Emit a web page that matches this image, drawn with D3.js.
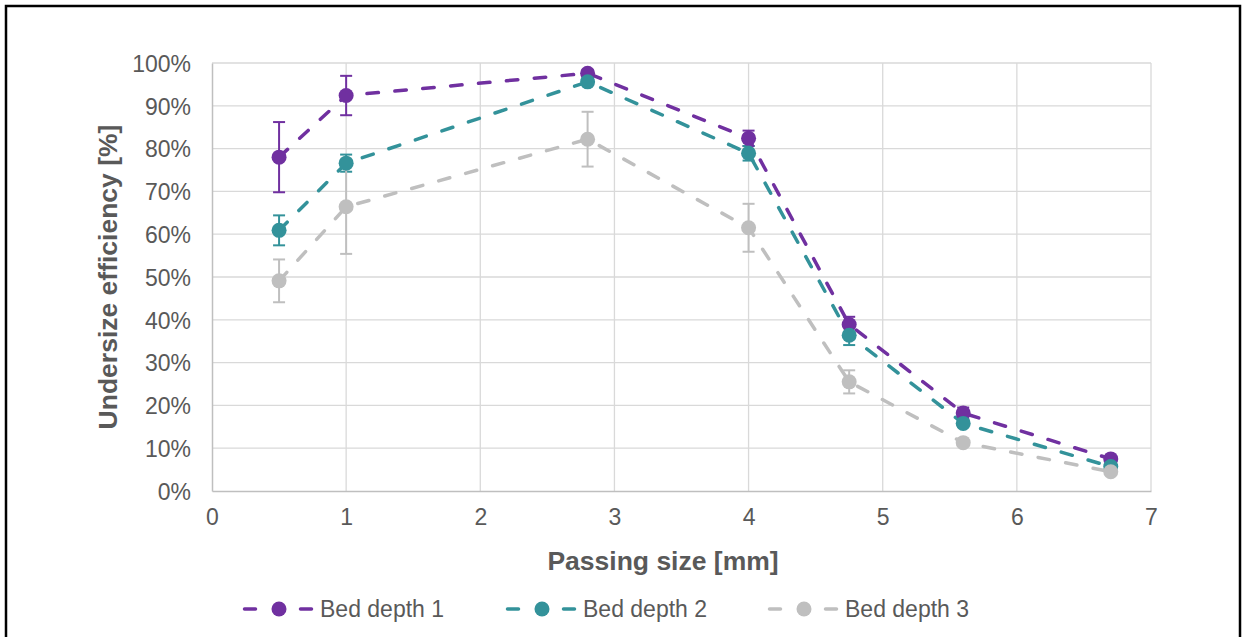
<!DOCTYPE html>
<html>
<head>
<meta charset="utf-8">
<script src="https://cdn.jsdelivr.net/npm/d3@7"></script>
<style>
  html, body { margin: 0; padding: 0; background: #fff; }
  svg { display: block; font-family: Arial, "Liberation Sans", sans-serif; }
</style>
</head>
<body>
<svg id="chart" width="1242" height="637"></svg>
<script>
// Passing sizes (mm) tested
const passingSize = [0.5, 1, 2.8, 4, 4.75, 5.6, 6.7];

// Undersize efficiency per bed depth (fraction) and standard deviation
const bedDepth1 = [0.780, 0.924, 0.976, 0.824, 0.389, 0.182, 0.075];
const bedDepth1Err = [0.082, 0.046, 0.008, 0.018, 0.018, 0.013, 0.006];

const bedDepth2 = [0.609, 0.766, 0.956, 0.789, 0.364, 0.158, 0.057];
const bedDepth2Err = [0.035, 0.020, 0.008, 0.017, 0.023, 0.008, 0.006];

const bedDepth3 = [0.491, 0.664, 0.822, 0.615, 0.255, 0.113, 0.045];
const bedDepth3Err = [0.050, 0.110, 0.064, 0.056, 0.027, 0.006, 0.004];

const seriesNames = ["Bed depth 1", "Bed depth 2", "Bed depth 3"];
const seriesColors = ["#7030A0", "#33929A", "#BFBFBF"];

const xTicks = [0, 1, 2, 3, 4, 5, 6, 7];
const yTicks = [0, 0.1, 0.2, 0.3, 0.4, 0.5, 0.6, 0.7, 0.8, 0.9, 1.0];

const series = [
  { name: seriesNames[0], color: seriesColors[0], values: bedDepth1, err: bedDepth1Err },
  { name: seriesNames[1], color: seriesColors[1], values: bedDepth2, err: bedDepth2Err },
  { name: seriesNames[2], color: seriesColors[2], values: bedDepth3, err: bedDepth3Err }
];

const svg = d3.select("#chart");
const plot = { left: 212, right: 1151, top: 63, bottom: 491 };

const x = d3.scaleLinear().domain([0, 7]).range([plot.left, plot.right]);
const y = d3.scaleLinear().domain([0, 1]).range([plot.bottom, plot.top]);

const textColor = "#595959";
const tickFont = "23px";
const titleFont = "26.5px";

// outer chart frame
svg.append("rect")
  .attr("x", 6).attr("y", 6)
  .attr("width", 1234).attr("height", 640)
  .attr("fill", "none")
  .attr("stroke", "#000")
  .attr("stroke-width", 2.5);

// gridlines
const grid = svg.append("g");
grid.selectAll("line.h").data(yTicks.slice(1)).enter().append("line")
  .attr("x1", plot.left).attr("x2", plot.right)
  .attr("y1", d => y(d)).attr("y2", d => y(d))
  .attr("stroke", "#D9D9D9").attr("stroke-width", 1.3);
grid.selectAll("line.v").data(xTicks.slice(1)).enter().append("line")
  .attr("y1", plot.top).attr("y2", plot.bottom)
  .attr("x1", d => x(d)).attr("x2", d => x(d))
  .attr("stroke", "#D9D9D9").attr("stroke-width", 1.3);

// axes
const xAxis = svg.append("g")
  .attr("transform", `translate(0,${plot.bottom})`)
  .call(d3.axisBottom(x).tickValues(xTicks).tickSize(0).tickPadding(18).tickFormat(d3.format("d")));
const yAxis = svg.append("g")
  .attr("transform", `translate(${plot.left},0)`)
  .call(d3.axisLeft(y).tickValues(yTicks).tickSize(0).tickPadding(21).tickFormat(d3.format(".0%")));

[xAxis, yAxis].forEach(a => {
  a.select(".domain").attr("stroke", "#BFBFBF").attr("stroke-width", 1.5);
  a.selectAll("text").attr("fill", textColor).attr("font-size", tickFont)
    .attr("font-family", "Arial, 'Liberation Sans', sans-serif");
});
yAxis.selectAll("text").attr("dy", "0.36em");

// axis titles
svg.append("text")
  .attr("x", 663).attr("y", 570)
  .attr("text-anchor", "middle")
  .attr("font-size", titleFont).attr("font-weight", "bold")
  .attr("fill", textColor)
  .text("Passing size [mm]");

svg.append("text")
  .attr("transform", `translate(117,${(plot.top + plot.bottom) / 2}) rotate(-90)`)
  .attr("text-anchor", "middle")
  .attr("font-size", titleFont).attr("font-weight", "bold")
  .attr("fill", textColor)
  .text("Undersize efficiency [%]");

// error bars
const capHalf = 6;
const errLayer = svg.append("g");
series.forEach(s => {
  const g = errLayer.append("g").attr("stroke", s.color).attr("stroke-width", 2);
  passingSize.forEach((px, i) => {
    const lo = y(s.values[i] - s.err[i]);
    const hi = y(s.values[i] + s.err[i]);
    g.append("line").attr("x1", x(px)).attr("x2", x(px)).attr("y1", lo).attr("y2", hi);
    g.append("line").attr("x1", x(px) - capHalf).attr("x2", x(px) + capHalf).attr("y1", lo).attr("y2", lo);
    g.append("line").attr("x1", x(px) - capHalf).attr("x2", x(px) + capHalf).attr("y1", hi).attr("y2", hi);
  });
});

// dashed connecting lines
const line = d3.line()
  .x(d => x(d[0]))
  .y(d => y(d[1]));

const lineLayer = svg.append("g");
series.forEach(s => {
  lineLayer.append("path")
    .datum(passingSize.map((px, i) => [px, s.values[i]]))
    .attr("d", line)
    .attr("fill", "none")
    .attr("stroke", s.color)
    .attr("stroke-width", 3.5)
    .attr("stroke-linecap", "round")
    .attr("stroke-linejoin", "round")
    .attr("stroke-dasharray", "11.5,16.5");
});

// markers
const markerLayer = svg.append("g");
series.forEach(s => {
  markerLayer.append("g").selectAll("circle")
    .data(passingSize.map((px, i) => [px, s.values[i]]))
    .enter().append("circle")
    .attr("cx", d => x(d[0]))
    .attr("cy", d => y(d[1]))
    .attr("r", 7.5)
    .attr("fill", s.color);
});

// legend
const legendX = [243, 506, 768];
const legendY = 609;
series.forEach((s, i) => {
  const g = svg.append("g").attr("transform", `translate(${legendX[i]},${legendY})`);
  g.append("line").attr("x1", 1.5).attr("x2", 12.5).attr("y1", 0).attr("y2", 0)
    .attr("stroke", s.color).attr("stroke-width", 3.5).attr("stroke-linecap", "round");
  g.append("line").attr("x1", 57.5).attr("x2", 68.5).attr("y1", 0).attr("y2", 0)
    .attr("stroke", s.color).attr("stroke-width", 3.5).attr("stroke-linecap", "round");
  g.append("circle").attr("cx", 36).attr("cy", 0).attr("r", 7.5).attr("fill", s.color);
  g.append("text")
    .attr("x", 77).attr("y", 0).attr("dy", "0.36em")
    .attr("font-size", tickFont)
    .attr("fill", textColor)
    .text(s.name);
});
</script>
</body>
</html>
